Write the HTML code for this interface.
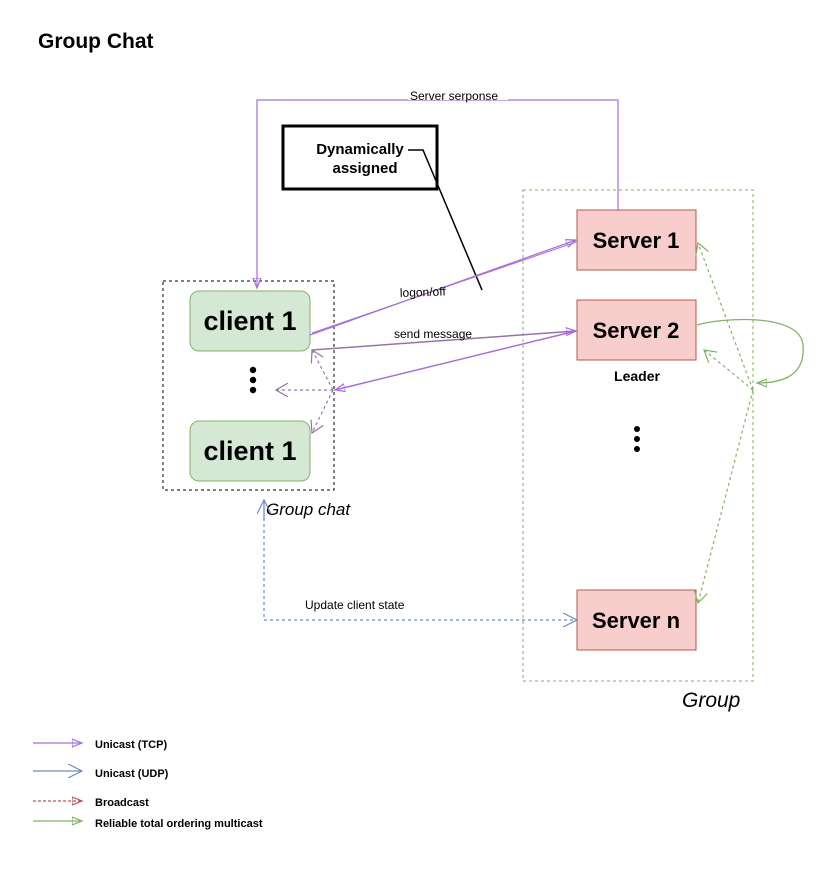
<!DOCTYPE html>
<html><head><meta charset="utf-8"><style>
html,body{margin:0;padding:0;background:#fff;}
svg{display:block;font-family:"Liberation Sans",Arial,sans-serif;}
</style></head><body>
<svg width="825" height="871" viewBox="0 0 825 871" xmlns="http://www.w3.org/2000/svg">
<defs>
<marker id="ap" markerWidth="12" markerHeight="10" refX="10" refY="5" orient="auto" markerUnits="userSpaceOnUse"><path d="M0,1 L10,5 L0,9 Z" fill="none" stroke="#a66fd8" stroke-width="1.2"/></marker>
<marker id="apo" markerWidth="14" markerHeight="14" refX="12" refY="7" orient="auto" markerUnits="userSpaceOnUse"><path d="M0,0 L12,7 L0,14" fill="none" stroke="#9673a6" stroke-width="1.2"/></marker>
<marker id="ab" markerWidth="16" markerHeight="14" refX="14" refY="7" orient="auto" markerUnits="userSpaceOnUse"><path d="M0,0 L14,7 L0,14" fill="none" stroke="#6c8ebf" stroke-width="1.2"/></marker>
<marker id="ag" markerWidth="14" markerHeight="14" refX="12" refY="7" orient="auto" markerUnits="userSpaceOnUse"><path d="M0,0 L12,7 L0,14" fill="none" stroke="#82b366" stroke-width="1.2"/></marker>
<marker id="agt" markerWidth="12" markerHeight="10" refX="10" refY="5" orient="auto" markerUnits="userSpaceOnUse"><path d="M0,1 L10,5 L0,9 Z" fill="none" stroke="#82b366" stroke-width="1.2"/></marker>
<marker id="ar" markerWidth="12" markerHeight="10" refX="10" refY="5" orient="auto" markerUnits="userSpaceOnUse"><path d="M0,1 L10,5 L0,9 Z" fill="none" stroke="#b85450" stroke-width="1.2"/></marker>
</defs>

<text x="38" y="48" font-size="21" font-weight="bold">Group Chat</text>

<rect x="523" y="190" width="230" height="491" fill="none" stroke="#82b366" stroke-dasharray="3,3"/>
<text x="682" y="707" font-size="21" font-style="italic">Group</text>

<rect x="163" y="281" width="171" height="209" fill="none" stroke="#000" stroke-dasharray="3,3"/>
<text x="266" y="515" font-size="17" font-style="italic">Group chat</text>

<polyline points="618,210 618,100 257,100 257,288" fill="none" stroke="#a66fd8" stroke-width="1.2" marker-end="url(#ap)"/>
<rect x="408" y="97" width="100" height="3" fill="#fff"/>
<text x="410" y="100" font-size="12">Server serponse</text>

<rect x="283" y="126" width="154" height="63" fill="#fff" stroke="#000" stroke-width="3"/>
<text x="360" y="154" font-size="15" font-weight="bold" text-anchor="middle">Dynamically</text>
<text x="365" y="173" font-size="15" font-weight="bold" text-anchor="middle">assigned</text>
<polyline points="408,150 423,150 482,290" fill="none" stroke="#000" stroke-width="1.5"/>

<rect x="190" y="291" width="120" height="60" rx="9" fill="#d5e8d4" stroke="#82b366"/>
<text x="250" y="330" font-size="27" font-weight="bold" text-anchor="middle">client 1</text>
<rect x="190" y="421" width="120" height="60" rx="9" fill="#d5e8d4" stroke="#82b366"/>
<text x="250" y="460" font-size="27" font-weight="bold" text-anchor="middle">client 1</text>
<circle cx="253" cy="370" r="3.2"/><circle cx="253" cy="380" r="3.2"/><circle cx="253" cy="390" r="3.2"/>

<rect x="577" y="210" width="119" height="60" fill="#f8cecc" stroke="#b85450"/>
<text x="636" y="248" font-size="22" font-weight="bold" text-anchor="middle">Server 1</text>
<rect x="577" y="300" width="119" height="60" fill="#f8cecc" stroke="#b85450"/>
<text x="636" y="338" font-size="22" font-weight="bold" text-anchor="middle">Server 2</text>
<text x="637" y="381" font-size="14" font-weight="bold" text-anchor="middle">Leader</text>
<rect x="577" y="590" width="119" height="60" fill="#f8cecc" stroke="#b85450"/>
<text x="636" y="628" font-size="22" font-weight="bold" text-anchor="middle">Server n</text>
<circle cx="637" cy="429" r="3"/><circle cx="637" cy="439" r="3"/><circle cx="637" cy="449" r="3"/>

<line x1="310" y1="335" x2="576" y2="240" stroke="#a66fd8" stroke-width="1.2" marker-end="url(#ap)"/>
<line x1="312" y1="333" x2="576" y2="242" stroke="#a66fd8" stroke-width="1"/>
<text x="400" y="297" font-size="12" transform="rotate(-2 400 297)">logon/off</text>
<line x1="312" y1="350" x2="576" y2="331" stroke="#9673a6" stroke-width="1.5" marker-end="url(#ap)"/>
<text x="394" y="338" font-size="12">send message</text>
<line x1="576" y1="331" x2="335" y2="390" stroke="#a66fd8" stroke-width="1.5" marker-end="url(#ap)"/>

<line x1="333" y1="390" x2="312" y2="350" stroke="#9673a6" stroke-dasharray="3,3" stroke-width="1.2" marker-end="url(#apo)"/>
<line x1="333" y1="390" x2="276" y2="390" stroke="#9673a6" stroke-dasharray="3,3" stroke-width="1.2" marker-end="url(#apo)"/>
<line x1="333" y1="390" x2="312" y2="433" stroke="#9673a6" stroke-dasharray="3,3" stroke-width="1.2" marker-end="url(#apo)"/>

<path d="M697,325 C720,318 800,312 803,345 C806,380 775,383 757,383" fill="none" stroke="#82b366" stroke-width="1.3" marker-end="url(#agt)"/>
<line x1="753" y1="390" x2="698" y2="243" stroke="#82b366" stroke-dasharray="3,3" stroke-width="1.2" marker-end="url(#ag)"/>
<line x1="753" y1="390" x2="704" y2="350" stroke="#82b366" stroke-dasharray="3,3" stroke-width="1.2" marker-end="url(#ag)"/>
<line x1="753" y1="390" x2="698" y2="603" stroke="#82b366" stroke-dasharray="3,3" stroke-width="1.2" marker-end="url(#ag)"/>

<polyline points="264,500 264,620 577,620" fill="none" stroke="#6c8ebf" stroke-dasharray="3,3" stroke-width="1.2" marker-end="url(#ab)"/>
<line x1="264" y1="520" x2="264" y2="500" stroke="#6c8ebf" stroke-width="1.2" marker-end="url(#ab)"/>
<text x="305" y="609" font-size="12">Update client state</text>

<line x1="33" y1="743" x2="82" y2="743" stroke="#a66fd8" stroke-width="1.2" marker-end="url(#ap)"/>
<text x="95" y="748" font-size="11" font-weight="bold">Unicast (TCP)</text>
<line x1="33" y1="771" x2="82" y2="771" stroke="#6c8ebf" stroke-width="1.2" marker-end="url(#ab)"/>
<text x="95" y="777" font-size="11" font-weight="bold">Unicast (UDP)</text>
<line x1="33" y1="801" x2="82" y2="801" stroke="#b85450" stroke-dasharray="3,2" stroke-width="1.2" marker-end="url(#ar)"/>
<text x="95" y="806" font-size="11" font-weight="bold">Broadcast</text>
<line x1="33" y1="821" x2="82" y2="821" stroke="#82b366" stroke-width="1.2" marker-end="url(#agt)"/>
<text x="95" y="827" font-size="11" font-weight="bold">Reliable total ordering multicast</text>
</svg>
</body></html>
